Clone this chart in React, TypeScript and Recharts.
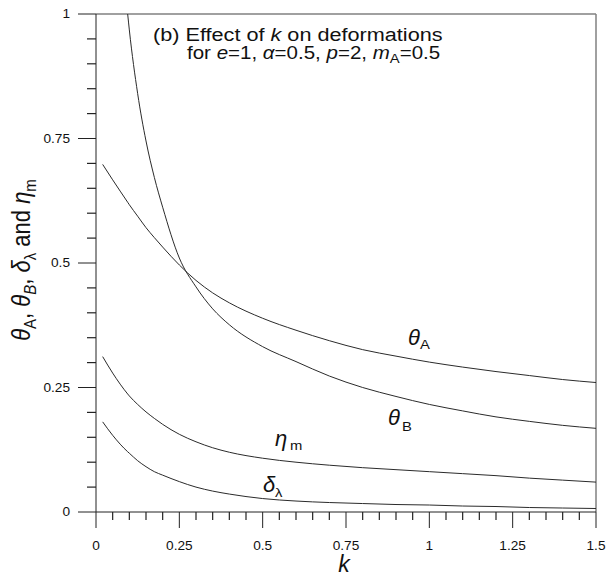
import { LineChart, Line, XAxis, YAxis, ReferenceLine } from "recharts";

const kValues = [0.02, 0.05, 0.095, 0.1, 0.125, 0.15, 0.175, 0.2, 0.25, 0.3, 0.35, 0.4, 0.5, 0.6, 0.7, 0.8, 0.9, 1.0, 1.1, 1.2, 1.3, 1.4, 1.5];
const thetaA = [0.698, 0.667, 0.622, 0.617, 0.594, 0.571, 0.551, 0.532, 0.496, 0.465, 0.44, 0.42, 0.389, 0.365, 0.344, 0.326, 0.313, 0.301, 0.291, 0.282, 0.274, 0.266, 0.26];
const thetaB = [null, null, 1.0, 0.968, 0.84, 0.745, 0.672, 0.612, 0.51, 0.452, 0.408, 0.376, 0.332, 0.302, 0.273, 0.25, 0.232, 0.216, 0.203, 0.191, 0.182, 0.174, 0.168];
const etaM = [0.312, 0.279, 0.237, 0.233, 0.216, 0.201, 0.188, 0.176, 0.156, 0.141, 0.129, 0.12, 0.108, 0.1, 0.094, 0.089, 0.085, 0.081, 0.077, 0.073, 0.068, 0.064, 0.06];
const deltaL = [0.181, 0.154, 0.121, 0.118, 0.103, 0.091, 0.081, 0.074, 0.061, 0.05, 0.042, 0.036, 0.027, 0.022, 0.019, 0.017, 0.015, 0.014, 0.012, 0.011, 0.009, 0.008, 0.007];

const xMajorTicks = [0, 0.25, 0.5, 0.75, 1, 1.25, 1.5];
const yMajorTicks = [0, 0.25, 0.5, 0.75, 1];
const xMinorTicks = [0.05, 0.1, 0.15, 0.2, 0.3, 0.35, 0.4, 0.45, 0.55, 0.6, 0.65, 0.7, 0.8, 0.85, 0.9, 0.95, 1.05, 1.1, 1.15, 1.2, 1.3, 1.35, 1.4, 1.45];
const yMinorTicks = [0.05, 0.1, 0.15, 0.2, 0.3, 0.35, 0.4, 0.45, 0.55, 0.6, 0.65, 0.7, 0.8, 0.85, 0.9, 0.95];

const data = kValues.map((k, i) => ({
  k,
  thetaA: thetaA[i],
  thetaB: thetaB[i],
  etaM: etaM[i],
  deltaL: deltaL[i],
}));

const font = "'Liberation Sans', Arial, sans-serif";
const ink = "#111";
const axisColor = "#222";
const frameColor = "#808080";
const curveColor = "#2b2b2b";
const SX = 1.14;

// plot box: left 96, top 14, 500 x 498 px for k 0..1.5 and 0..1
const PLOT_LEFT = 96;
const PLOT_TOP = 14;
const PLOT_W = 500;
const PLOT_H = 498;
const X_MAX = 1.5;
const Y_MAX = 1;
const px = (k: number) => PLOT_LEFT + (k / X_MAX) * PLOT_W;
const py = (v: number) => PLOT_TOP + (1 - v / Y_MAX) * PLOT_H;

// minor ticks: 8 px below the k axis, 9 px left of the value axis
const X_MINOR_LEN = (8 / PLOT_H) * Y_MAX;
const Y_MINOR_LEN = (9 / PLOT_W) * X_MAX;

function StretchText({ x, y, size, anchor = "start", children }: any) {
  return (
    <text
      transform={`translate(${x},${y}) scale(${SX},1)`}
      fontFamily={font}
      fontSize={size}
      textAnchor={anchor}
      fill={ink}
    >
      {children}
    </text>
  );
}

const XTickLabel = ({ x, y, payload }: any) => (
  <StretchText x={x} y={y + 22} size={12} anchor="middle">
    {String(payload.value)}
  </StretchText>
);

const YTickLabel = ({ x, y, payload }: any) => (
  <StretchText x={x - 8} y={y + 4} size={12} anchor="end">
    {String(payload.value)}
  </StretchText>
);

const CurveLabel = ({ k, v, greek, sub, subDx, subDy }: any) => (
  <g>
    <text x={px(k)} y={py(v)} fontFamily={font} fontSize={22} fontStyle="italic" fill={ink}>
      {greek}
    </text>
    <StretchText x={px(k) + subDx} y={py(v) + subDy} size={13}>
      {sub}
    </StretchText>
  </g>
);

const lineProps = {
  type: "monotone" as const,
  stroke: curveColor,
  strokeWidth: 1,
  dot: false,
  isAnimationActive: false,
};

export default function App() {
  return (
    <div style={{ position: "absolute", left: 0, top: 0, background: "#fff" }}>
      <LineChart width={614} height={577} data={data} margin={{ top: 14, right: 18, left: 0, bottom: 0 }}>
        <XAxis
          dataKey="k"
          type="number"
          domain={[0, X_MAX]}
          ticks={xMajorTicks}
          interval={0}
          tickSize={16}
          tickMargin={0}
          tickLine={{ stroke: axisColor }}
          tick={(p: any) => <XTickLabel {...p} />}
          axisLine={{ stroke: axisColor }}
          height={65}
          allowDataOverflow
        />
        <YAxis
          type="number"
          domain={[0, Y_MAX]}
          ticks={yMajorTicks}
          interval={0}
          tickSize={18}
          tickMargin={0}
          tickLine={{ stroke: axisColor }}
          tick={(p: any) => <YTickLabel {...p} />}
          axisLine={{ stroke: axisColor }}
          width={96}
          allowDataOverflow
        />
        {xMinorTicks.map((v) => (
          <ReferenceLine
            key={`xt${v}`}
            segment={[{ x: v, y: 0 }, { x: v, y: -X_MINOR_LEN }]}
            stroke={axisColor}
            strokeWidth={1.2}
            ifOverflow="visible"
          />
        ))}
        {yMinorTicks.map((v) => (
          <ReferenceLine
            key={`yt${v}`}
            segment={[{ x: 0, y: v }, { x: -Y_MINOR_LEN, y: v }]}
            stroke={axisColor}
            strokeWidth={1.2}
            ifOverflow="visible"
          />
        ))}
        <ReferenceLine y={Y_MAX} stroke={frameColor} strokeWidth={1.5} />
        <ReferenceLine x={X_MAX} stroke={frameColor} strokeWidth={1.5} />
        <Line dataKey="thetaA" {...lineProps} />
        <Line dataKey="thetaB" {...lineProps} />
        <Line dataKey="etaM" {...lineProps} />
        <Line dataKey="deltaL" {...lineProps} />

        {/* in-plot caption */}
        <StretchText x={px(0.171)} y={py(0.946)} size={19}>
          (b) Effect of <tspan fontStyle="italic">k</tspan> on deformations
        </StretchText>
        <StretchText x={px(0.171) + 34} y={py(0.946) + 18} size={18}>
          for <tspan fontStyle="italic">e</tspan>=1, <tspan fontStyle="italic">α</tspan>=0.5,{" "}
          <tspan fontStyle="italic">p</tspan>=2, <tspan fontStyle="italic">m</tspan>
          <tspan fontSize={13} dy={4}>A</tspan>
          <tspan dy={-4}>=0.5</tspan>
        </StretchText>

        {/* curve labels */}
        <CurveLabel k={0.936} v={0.335} greek="θ" sub="A" subDx={12} subDy={4} />
        <CurveLabel k={0.876} v={0.175} greek="θ" sub="B" subDx={14} subDy={6} />
        <CurveLabel k={0.537} v={0.1325} greek="η" sub="m" subDx={15} subDy={4} />
        <CurveLabel k={0.501} v={0.04} greek="δ" sub="λ" subDx={12} subDy={5} />

        {/* axis titles */}
        <text
          transform={`translate(30,${py(Y_MAX / 2) - 3}) rotate(-90) scale(1,${SX})`}
          textAnchor="middle"
          fontFamily={font}
          fontSize={22}
          fill={ink}
        >
          <tspan fontStyle="italic">θ</tspan>
          <tspan fontSize={15} dy={5}>A</tspan>
          <tspan dy={-5}>, </tspan>
          <tspan fontStyle="italic">θ</tspan>
          <tspan fontSize={15} dy={5} fontStyle="italic">B</tspan>
          <tspan dy={-5}>, </tspan>
          <tspan fontStyle="italic">δ</tspan>
          <tspan fontSize={15} dy={5}>λ</tspan>
          <tspan dy={-5}> and </tspan>
          <tspan fontStyle="italic">η</tspan>
          <tspan fontSize={15} dy={5}>m</tspan>
        </text>
        <text x={px(X_MAX / 2) - 2} y={572} textAnchor="middle" fontFamily={font} fontSize={23} fontStyle="italic" fill={ink}>
          k
        </text>
      </LineChart>
    </div>
  );
}
